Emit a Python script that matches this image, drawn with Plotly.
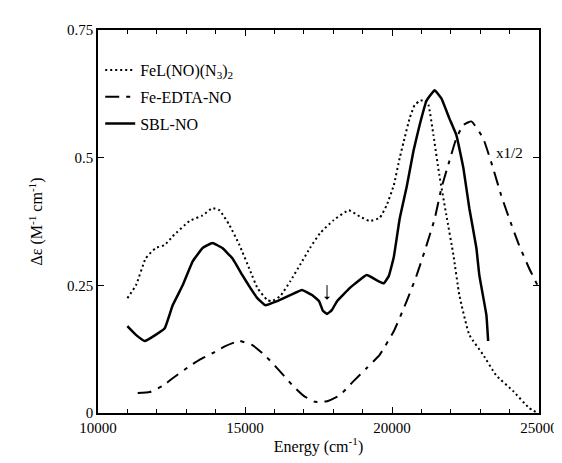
import plotly.graph_objects as go

# FeL(NO)(N3)2 (dotted)
fel_E = [11000, 11290, 11625, 11960, 12270, 12540, 13115, 13560, 13890, 14130, 14470, 14810,
         15180, 15420, 15760, 15925, 16200, 16540, 16870, 17210, 17550, 18020, 18530, 18900,
         19240, 19580, 19820, 20060, 20260, 20400, 20600, 20770, 20940, 21110, 21240, 21410,
         21610, 21850, 22090, 22290, 22630, 23100, 23540, 24120, 24660, 24950]
fel_v = [0.225, 0.25, 0.303, 0.323, 0.329, 0.346, 0.376, 0.387, 0.401, 0.397, 0.368, 0.329,
         0.278, 0.245, 0.221, 0.219, 0.229, 0.258, 0.29, 0.323, 0.352, 0.378, 0.397, 0.385,
         0.376, 0.382, 0.407, 0.446, 0.499, 0.532, 0.577, 0.603, 0.611, 0.613, 0.603, 0.544,
         0.466, 0.387, 0.309, 0.231, 0.153, 0.114, 0.074, 0.043, 0.01, 0.0]

# Fe-EDTA-NO (dash-dot, x1/2)
edta_E = [11350, 11760, 12200, 12540, 13120, 13450, 13890, 14330, 14810, 15250, 15690, 16090,
          16600, 17010, 17380, 17790, 18230, 18700, 19140, 19580, 20060, 20500, 20840, 21100,
          21450, 21680, 21950, 22190, 22430, 22700, 23100, 23440, 23710, 23980, 24320, 24660, 24950]
edta_v = [0.039, 0.041, 0.053, 0.068, 0.092, 0.104, 0.117, 0.131, 0.141, 0.133, 0.112, 0.088,
          0.055, 0.033, 0.022, 0.023, 0.035, 0.063, 0.088, 0.114, 0.16, 0.219, 0.27, 0.315,
          0.38, 0.44, 0.493, 0.538, 0.564, 0.571, 0.538, 0.479, 0.427, 0.382, 0.329, 0.284, 0.25]

# SBL-NO (solid)
sbl_E = [11000, 11080, 11290, 11590, 11960, 12270, 12540, 12880, 13220, 13560, 13890, 14230,
         14570, 14910, 15180, 15420, 15690, 16090, 16540, 16940, 17280, 17520, 17650, 17790,
         17960, 18130, 18570, 19140, 19480, 19720, 19890, 20060, 20260, 20500, 20730, 20940,
         21170, 21450, 21680, 21950, 22190, 22430, 22630, 22870, 22970, 23210, 23270]
sbl_v = [0.17, 0.165, 0.153, 0.141, 0.153, 0.166, 0.211, 0.25, 0.297, 0.323, 0.333, 0.323,
         0.303, 0.27, 0.245, 0.225, 0.211, 0.219, 0.231, 0.241, 0.231, 0.219, 0.2, 0.194,
         0.202, 0.219, 0.245, 0.27, 0.26, 0.254, 0.268, 0.305, 0.38, 0.443, 0.513, 0.564,
         0.611, 0.632, 0.616, 0.577, 0.544, 0.479, 0.401, 0.323, 0.27, 0.192, 0.141]

x_ticks = [10000, 15000, 20000, 25000]
x_tick_text = ["10000", "15000", "20000", "25000"]
y_ticks = [0, 0.25, 0.5, 0.75]
y_tick_text = ["0", "0.25", "0.5", "0.75"]

FONT = "Liberation Serif, Times New Roman, DejaVu Serif, serif"

fig = go.Figure()
fig.add_trace(go.Scatter(x=fel_E, y=fel_v, mode="lines", name="FeL(NO)(N<sub>3</sub>)<sub>2</sub>",
                         legendgroup="a",
                         line=dict(color="black", width=2, dash="2px,3px", shape="spline", smoothing=0.4)))
fig.add_trace(go.Scatter(x=edta_E, y=edta_v, mode="lines", name="Fe-EDTA-NO",
                         legendgroup="b",
                         line=dict(color="black", width=2, dash="14px,7px,4px,7px", shape="spline", smoothing=0.4)))
fig.add_trace(go.Scatter(x=sbl_E, y=sbl_v, mode="lines", name="SBL-NO",
                         legendgroup="c",
                         line=dict(color="black", width=2.5, shape="spline", smoothing=0.3)))

fig.add_annotation(x=24000, y=0.51, text="x1/2", showarrow=False,
                   font=dict(family=FONT, size=15, color="black"))
fig.add_annotation(x=17790, y=0.222, ax=0, ay=-16, text="", showarrow=True,
                   arrowhead=1, arrowsize=1, arrowwidth=1, arrowcolor="black")

axis_common = dict(showline=True, linecolor="black", linewidth=1.5, mirror="ticks",
                   ticks="inside", tickcolor="black", showgrid=False, zeroline=False,
                   tickfont=dict(family=FONT, size=15, color="black"))

fig.update_layout(
    width=562, height=463,
    margin=dict(l=90, r=29, t=22, b=58),
    paper_bgcolor="white", plot_bgcolor="white",
    font=dict(family=FONT, color="black"),
    showlegend=True,
    legend=dict(x=0.005, y=0.94, xanchor="left", yanchor="top",
                font=dict(family=FONT, size=16, color="black"),
                bgcolor="rgba(0,0,0,0)", tracegroupgap=3, traceorder="grouped"),
    xaxis=dict(range=[10000, 25000], tickvals=x_ticks, ticktext=x_tick_text, ticklen=6,
               minor=dict(dtick=1000, ticks="inside", ticklen=4, tickcolor="black"),
               title=dict(text="Energy (cm<sup>-1</sup>)", font=dict(family=FONT, size=16), standoff=6),
               **axis_common),
    yaxis=dict(range=[0, 0.75], tickvals=y_ticks, ticktext=y_tick_text, ticklen=6,
               title=dict(text="Δε (M<sup>-1</sup> cm<sup>-1</sup>)", font=dict(family=FONT, size=16), standoff=20),
               **axis_common),
)

fig.write_html("out.html")
